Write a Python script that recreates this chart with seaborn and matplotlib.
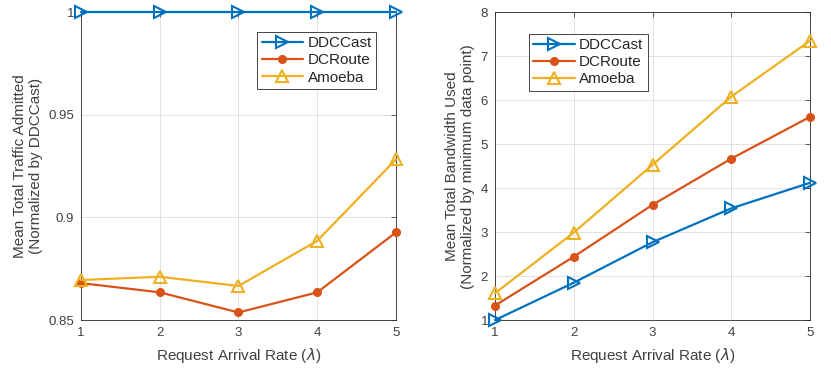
import matplotlib as mpl
import matplotlib.pyplot as plt
import matplotlib.ticker as mticker
import seaborn as sns
import pandas as pd

sns.set_style("white")
plt.rcParams["font.family"] = ["Liberation Sans", "DejaVu Sans"]
plt.rcParams["mathtext.fontset"] = "dejavusans"

rates = [1, 2, 3, 4, 5]
series = ["DDCCast", "DCRoute", "Amoeba"]

# left panel: traffic admitted (normalized by DDCCast)
adm_ddccast = [1.0, 1.0, 1.0, 1.0, 1.0]
adm_dcroute = [0.868, 0.8635, 0.8537, 0.8635, 0.8927]
adm_amoeba = [0.8695, 0.8711, 0.8666, 0.8886, 0.9283]

# right panel: bandwidth used (normalized by min data point)
bw_ddccast = [1.0, 1.85, 2.77, 3.54, 4.12]
bw_dcroute = [1.33, 2.44, 3.62, 4.67, 5.62]
bw_amoeba = [1.61, 2.99, 4.53, 6.08, 7.35]

colors = {"DDCCast": "#0072BD", "DCRoute": "#D95319", "Amoeba": "#EDB120"}
markers = {"DDCCast": ">", "DCRoute": "o", "Amoeba": "^"}
msize = {"DDCCast": 8.5, "DCRoute": 5, "Amoeba": 8.5}
filled = {"DDCCast": False, "DCRoute": True, "Amoeba": False}

df_adm = pd.DataFrame({"rate": rates * 3,
                       "value": adm_ddccast + adm_dcroute + adm_amoeba,
                       "alg": sum([[s] * 5 for s in series], [])})
df_bw = pd.DataFrame({"rate": rates * 3,
                      "value": bw_ddccast + bw_dcroute + bw_amoeba,
                      "alg": sum([[s] * 5 for s in series], [])})

fig = plt.figure(figsize=(8.31, 3.7), dpi=100)
ax1 = fig.add_axes([0.0975, 0.135, 0.379, 0.832])
ax2 = fig.add_axes([0.5957, 0.135, 0.379, 0.832])

text_c = "#262626"
tick_c = "#404040"


def draw(ax, df):
    for s in series:
        d = df[df["alg"] == s]
        sns.lineplot(x="rate", y="value", data=d, ax=ax, color=colors[s],
                     marker=markers[s], markersize=msize[s], linewidth=1.6,
                     markerfacecolor=colors[s] if filled[s] else "none",
                     markeredgewidth=1.5, markeredgecolor=colors[s],
                     label=s, clip_on=False, zorder=3)
    ax.set_xlim(1, 5)
    ax.set_xticks(rates)
    ax.grid(True, color="#dcdcdc", linewidth=0.6)
    ax.tick_params(direction="in", length=3.5, width=0.6, colors=tick_c,
                   labelsize=9.5, top=True, right=True, pad=5)
    for sp in ax.spines.values():
        sp.set_color(text_c)
        sp.set_linewidth(0.6)
    ax.set_xlabel(r"Request Arrival Rate ($\lambda$)", fontsize=11, color=tick_c,
                  labelpad=5)


draw(ax1, df_adm)
ax1.set_ylim(0.85, 1.0)
ax1.set_yticks([0.85, 0.9, 0.95, 1.0])
ax1.yaxis.set_major_formatter(mticker.FormatStrFormatter("%g"))
ax1.set_ylabel("Mean Total Traffic Admitted\n(Normalized by DDCCast)",
               fontsize=11, color=tick_c, labelpad=4)
leg1 = ax1.legend(loc="upper right", bbox_to_anchor=(0.962, 0.961),
                  fontsize=11, frameon=True, fancybox=False, framealpha=1,
                  edgecolor=text_c, handlelength=2.7, borderpad=0.3,
                  labelspacing=0.2, handletextpad=0.3)
leg1.get_frame().set_linewidth(0.6)

draw(ax2, df_bw)
ax2.set_ylim(1, 8)
ax2.set_yticks(range(1, 9))
ax2.set_ylabel("Mean Total Bandwidth Used\n(Normalized by minimum data point)",
               fontsize=11, color=tick_c, labelpad=4)
leg2 = ax2.legend(loc="upper left", bbox_to_anchor=(0.083, 0.955),
                  fontsize=11, frameon=True, fancybox=False, framealpha=1,
                  edgecolor=text_c, handlelength=2.7, borderpad=0.3,
                  labelspacing=0.2, handletextpad=0.3)
leg2.get_frame().set_linewidth(0.6)

fig.savefig("out.png", dpi=100)
